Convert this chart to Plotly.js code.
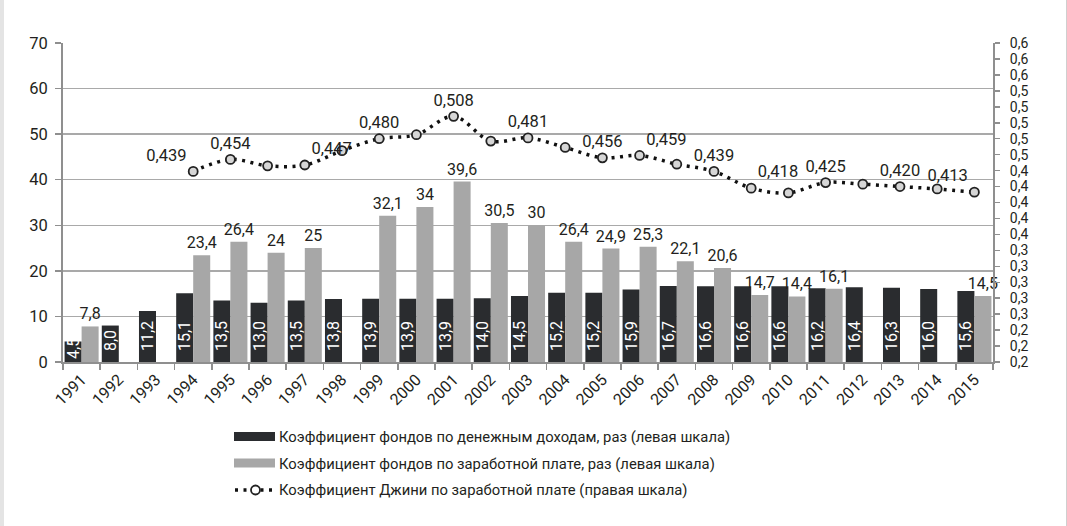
<!DOCTYPE html>
<html>
<head>
<meta charset="utf-8">
<script src="https://cdn.plot.ly/plotly-3.0.1.min.js"></script>
<style>
html,body{margin:0;padding:0;background:#fff;}
#wrap{position:relative;width:1067px;height:526px;overflow:hidden;}
#chart{width:1067px;height:526px;}
#edgeL{position:absolute;left:0;top:0;width:4px;height:526px;background:#e4e4e4;pointer-events:none;}
#edgeR{position:absolute;right:0;top:0;width:1px;height:526px;background:#cfcfcf;pointer-events:none;}
</style>
</head>
<body>
<div id="wrap"><div id="chart"></div><div id="edgeL"></div><div id="edgeR"></div></div>
<script>
// ---- data ----
const years = ['1991','1992','1993','1994','1995','1996','1997','1998','1999','2000','2001','2002','2003','2004','2005','2006','2007','2008','2009','2010','2011','2012','2013','2014','2015'];
const incomeRatio = [4.5, 8.0, 11.2, 15.1, 13.5, 13.0, 13.5, 13.8, 13.9, 13.9, 13.9, 14.0, 14.5, 15.2, 15.2, 15.9, 16.7, 16.6, 16.6, 16.6, 16.2, 16.4, 16.3, 16.0, 15.6];
const wageRatio = [7.8, null, null, 23.4, 26.4, 24, 25, null, 32.1, 34, 39.6, 30.5, 30, 26.4, 24.9, 25.3, 22.1, 20.6, 14.7, 14.4, 16.1, null, null, null, 14.5];
const giniYears = ['1994','1995','1996','1997','1998','1999','2000','2001','2002','2003','2004','2005','2006','2007','2008','2009','2010','2011','2012','2013','2014','2015'];
const gini = [0.439, 0.454, 0.446, 0.447, 0.465, 0.480, 0.485, 0.508, 0.477, 0.481, 0.469, 0.456, 0.459, 0.448, 0.439, 0.418, 0.412, 0.425, 0.423, 0.420, 0.417, 0.413];
const giniLabelledYears = ['1994','1995','1997','1999','2001','2003','2005','2006','2008','2009','2011','2013','2015'];
const legendNames = [
  'Коэффициент фондов по денежным доходам, раз (левая шкала)',
  'Коэффициент фондов по заработной плате, раз (левая шкала)',
  'Коэффициент Джини по заработной плате (правая шкала)'
];

// ---- styles ----
const FONT = 'Roboto, "Open Sans", "DejaVu Sans", sans-serif';
const TXT = '#231f20';
const DARK = '#2a2c2f';
const GREY = '#a7a7a7';
const AXIS = '#8f8f8f';
const NB = '\u00a0';
const comma = s => s.replace('.', ',');

const labelPos = {'1994':'top left','1997':'top right','2006':'top right','2009':'top right','2015':'top left'};

const traces = [
  {
    type:'bar', x:years, y:incomeRatio, name:legendNames[0],
    marker:{color:DARK},
    text: incomeRatio.map(v => (v < 6 ? '' : NB+NB) + comma(v.toFixed(1))),
    textposition:'inside', insidetextanchor:'start', textangle:-90,
    constraintext:'none',
    textfont:{family:FONT, size:16, color:'#ffffff'},
    cliponaxis:false, hoverinfo:'x+y'
  },
  {
    type:'bar', x:years, y:wageRatio, name:legendNames[1],
    marker:{color:GREY},
    text: wageRatio.map(v => v==null ? '' : comma(String(v))),
    textposition:'outside', textangle:0, constraintext:'none',
    textfont:{family:FONT, size:16, color:TXT},
    cliponaxis:false, hoverinfo:'x+y'
  },
  {
    type:'scatter', x:giniYears, y:gini, yaxis:'y2', name:legendNames[2],
    mode:'lines+markers+text',
    line:{color:'#111', width:3.5, dash:'3px,5.5px', shape:'spline', smoothing:1},
    marker:{symbol:'circle', size:9, color:'#d6d6d6', line:{color:'#222', width:1.8}},
    text: giniYears.map((y,i) => giniLabelledYears.includes(y) ? comma(gini[i].toFixed(3)) : ''),
    textposition: giniYears.map(y => labelPos[y] || 'top center'),
    textfont:{family:FONT, size:16.5, color:TXT},
    cliponaxis:false, hoverinfo:'x+y'
  }
];

// pixel -> paper helpers for legend (layout only)
const L=63, R=74, T=43, B=164, W=1067, H=526;
const pw = W-L-R, ph = H-T-B;
const px = p => (p-L)/pw;
const py = p => (H-B-p)/ph;

const shapes = [
  {type:'rect', xref:'paper', yref:'paper', x0:px(234), x1:px(275), y0:py(441), y1:py(432), fillcolor:DARK, line:{width:0}},
  {type:'rect', xref:'paper', yref:'paper', x0:px(234), x1:px(275), y0:py(467.5), y1:py(458.5), fillcolor:GREY, line:{width:0}},
  {type:'line', xref:'paper', yref:'paper', x0:px(235), x1:px(276), y0:py(490), y1:py(490), line:{color:'#111', width:3.5, dash:'3px,5.5px'}},
  {type:'circle', xref:'paper', yref:'paper', x0:px(251), x1:px(260), y0:py(494.5), y1:py(485.5), fillcolor:'#ffffff', line:{color:'#222', width:1.8}}
];
const annotations = legendNames.map((n,i) => ({
  xref:'paper', yref:'paper', x:px(277), y:py(437 + i*26.5), xanchor:'left', yanchor:'middle',
  text:n, showarrow:false, font:{family:FONT, size:14.8, color:TXT}
}));

const layout = {
  width:W, height:H,
  margin:{l:L, r:R, t:T, b:B, pad:0},
  paper_bgcolor:'#ffffff', plot_bgcolor:'#ffffff',
  font:{family:FONT, size:16, color:TXT},
  separators:', ',
  showlegend:false,
  barmode:'group', bargap:0.085, bargroupgap:0,
  xaxis:{
    type:'category', categoryorder:'array', categoryarray:years,
    range:[-0.5, years.length-0.5], autorange:false,
    tickangle:-45, tickson:'boundaries', ticks:'outside', ticklen:6, tickcolor:AXIS, tickwidth:1.5,
    showline:true, linecolor:AXIS, linewidth:2, showgrid:false, zeroline:false,
    tickfont:{family:FONT, size:16, color:TXT}
  },
  yaxis:{
    range:[0,70], dtick:10, tick0:0,
    ticks:'outside', ticklen:6, tickcolor:AXIS, tickwidth:1.5,
    showline:true, linecolor:AXIS, linewidth:2,
    showgrid:true, gridcolor:'#a9a9a9', gridwidth:1.5, zeroline:false,
    tickfont:{family:FONT, size:16.5, color:TXT}, ticklabelstandoff:4
  },
  yaxis2:{
    overlaying:'y', side:'right', range:[0.2,0.6], dtick:0.02, tick0:0.2, tickformat:'.1f',
    ticks:'outside', ticklen:5, tickcolor:AXIS, tickwidth:1.5,
    showline:true, linecolor:AXIS, linewidth:2, showgrid:false, zeroline:false,
    tickfont:{family:FONT, size:14, color:TXT}, ticklabelstandoff:7
  },
  shapes:shapes,
  annotations:annotations
};

Plotly.newPlot('chart', traces, layout, {staticPlot:true, displayModeBar:false});
</script>
</body>
</html>
